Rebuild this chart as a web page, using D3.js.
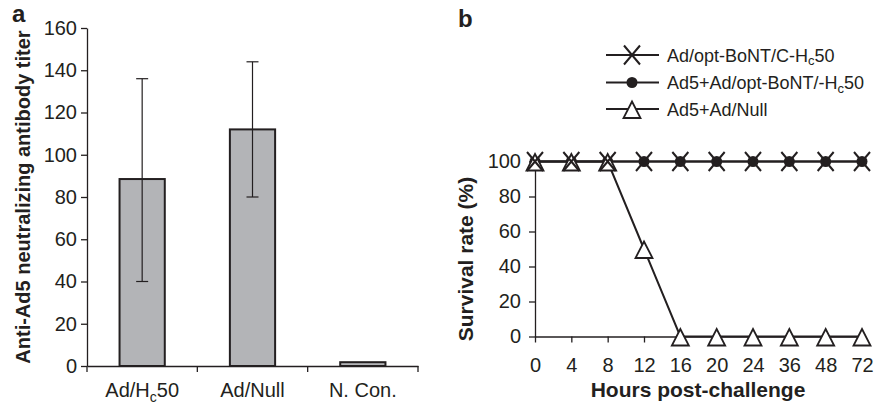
<!DOCTYPE html>
<html>
<head>
<meta charset="utf-8">
<script src="https://cdn.jsdelivr.net/npm/d3@7"></script>
<style>
  body { margin: 0; background: #fff; }
  svg { display: block; font-family: "Liberation Sans", Arial, sans-serif; }
  .axis path, .axis line { stroke: #231f20; stroke-width: 1.3px; }
  .axis text { fill: #231f20; font-size: 20px; font-family: "Liberation Sans", Arial, sans-serif; }
  .title { fill: #231f20; font-weight: bold; }
</style>
</head>
<body>
<svg id="chart" width="876" height="405"></svg>
<script>
// ---- data ----
// panel a: neutralizing antibody titer, mean with error bar range
const barCats = ["Ad/H{c}50", "Ad/Null", "N. Con."];
const barMeans = [88.5, 112, 1.8];
const barErrLow = [40, 80, null];
const barErrHigh = [136, 144, null];
const titerTicks = [0, 20, 40, 60, 80, 100, 120, 140, 160];

// panel b: survival after challenge
const hours = ["0", "4", "8", "12", "16", "20", "24", "36", "48", "72"];
const survivalHc50 = [100, 100, 100, 100, 100, 100, 100, 100, 100, 100];
const survivalAd5Hc50 = [100, 100, 100, 100, 100, 100, 100, 100, 100, 100];
const survivalNull = [100, 100, 100, 50, 0, 0, 0, 0, 0, 0];
const seriesNames = ["Ad/opt-BoNT/C-H{c}50", "Ad5+Ad/opt-BoNT/-H{c}50", "Ad5+Ad/Null"];
const survTicks = [0, 20, 40, 60, 80, 100];

const ink = "#231f20";
const svg = d3.select("#chart");

// writes "H{c}50" style strings with a subscript
function richText(sel, str, fs) {
  sel.text(null);
  str.split(/(\{[^}]*\})/).filter(s => s.length).forEach(part => {
    if (part[0] === "{") {
      sel.append("tspan").attr("font-size", Math.round(fs * 0.7)).attr("dy", fs * 0.22).text(part.slice(1, -1));
    } else {
      const t = sel.append("tspan").text(part);
      if (sel.selectAll("tspan").size() > 1) t.attr("dy", -fs * 0.22);
    }
  });
}

// ================= panel a =================
const ya = d3.scaleLinear().domain([0, 160]).range([366, 28]);
const xa = d3.scaleBand().domain(barCats).range([87, 418]).paddingInner(0.59).paddingOuter(0.295);

const ga = svg.append("g");

ga.append("g").attr("class", "axis").attr("transform", "translate(87,0)")
  .call(d3.axisLeft(ya).tickValues(titerTicks).tickSize(6).tickSizeOuter(0).tickPadding(4));

const xAxisA = ga.append("g").attr("class", "axis").attr("transform", "translate(0,366)")
  .call(d3.axisBottom(xa).tickSize(0).tickSizeOuter(0).tickPadding(17));
xAxisA.selectAll(".tick text").each(function(d) { richText(d3.select(this), d, 20); });
// category boundary ticks
const bStart = xa(barCats[0]) - xa.step() * xa.paddingInner() / 2;
xAxisA.selectAll(".bound").data(d3.range(barCats.length + 1)).enter()
  .append("line").attr("class", "bound")
  .attr("x1", i => bStart + i * xa.step()).attr("x2", i => bStart + i * xa.step())
  .attr("y1", 0).attr("y2", 6);

ga.selectAll(".bar").data(barCats).enter().append("rect")
  .attr("class", "bar")
  .attr("x", d => xa(d))
  .attr("width", xa.bandwidth())
  .attr("y", (d, i) => ya(barMeans[i]))
  .attr("height", (d, i) => ya(0) - ya(barMeans[i]))
  .attr("fill", "#b3b4b7").attr("stroke", ink).attr("stroke-width", 2);

const errs = barCats.map((c, i) => ({c, lo: barErrLow[i], hi: barErrHigh[i]})).filter(e => e.lo != null);
const eg = ga.selectAll(".err").data(errs).enter().append("g").attr("stroke", ink).attr("stroke-width", 1.2);
eg.append("line").attr("x1", d => xa(d.c) + xa.bandwidth() / 2).attr("x2", d => xa(d.c) + xa.bandwidth() / 2)
  .attr("y1", d => ya(d.lo)).attr("y2", d => ya(d.hi));
eg.append("line").attr("x1", d => xa(d.c) + xa.bandwidth() / 2 - 6).attr("x2", d => xa(d.c) + xa.bandwidth() / 2 + 6)
  .attr("y1", d => ya(d.hi)).attr("y2", d => ya(d.hi));
eg.append("line").attr("x1", d => xa(d.c) + xa.bandwidth() / 2 - 6).attr("x2", d => xa(d.c) + xa.bandwidth() / 2 + 6)
  .attr("y1", d => ya(d.lo)).attr("y2", d => ya(d.lo));

ga.append("text").attr("class", "title").attr("font-size", 20)
  .attr("transform", "translate(30," + ((ya(0) + ya(160)) / 2) + ") rotate(-90)")
  .attr("text-anchor", "middle").text("Anti-Ad5 neutralizing antibody titer");

svg.append("text").attr("class", "title").attr("font-size", 24).attr("x", 12).attr("y", 22).text("a");

// ================= panel b =================
const xb = d3.scalePoint().domain(hours).range([535, 862]).padding(0);
const yb = d3.scaleLinear().domain([0, 100]).range([336.5, 161.5]);

const gb = svg.append("g");

gb.append("g").attr("class", "axis").attr("transform", "translate(535,0)")
  .call(d3.axisLeft(yb).tickValues(survTicks).tickSize(6).tickSizeOuter(0).tickPadding(8));
gb.append("g").attr("class", "axis").attr("transform", "translate(0,336.5)")
  .call(d3.axisBottom(xb).tickSize(6).tickSizeOuter(0).tickPadding(15));

const series = [
  {name: seriesNames[0], values: survivalHc50, marker: "x"},
  {name: seriesNames[1], values: survivalAd5Hc50, marker: "dot"},
  {name: seriesNames[2], values: survivalNull, marker: "tri"}
];

const line = d3.line().x((v, i) => xb(hours[i])).y(v => yb(v));

function drawMarker(g, type) {
  if (type === "x") {
    g.append("path").attr("d", "M-8,-9.5L8,9.5M-8,9.5L8,-9.5")
      .attr("stroke", ink).attr("stroke-width", 2).attr("fill", "none");
  } else if (type === "dot") {
    g.append("circle").attr("r", 5.5).attr("fill", ink);
  } else {
    g.append("path").attr("d", "M0,-7.5L8.5,9L-8.5,9Z")
      .attr("fill", "#fff").attr("stroke", ink).attr("stroke-width", 1.8);
  }
}

// draw order: dots, triangles, crosses on top
const order = [1, 2, 0];
order.forEach(k => {
  gb.append("path").datum(series[k].values).attr("d", line)
    .attr("fill", "none").attr("stroke", ink).attr("stroke-width", 2);
});
order.forEach(k => {
  series[k].values.forEach((v, i) => {
    const m = gb.append("g").attr("transform", "translate(" + xb(hours[i]) + "," + yb(v) + ")");
    drawMarker(m, series[k].marker);
  });
});

// legend
const legendY = [55, 82.5, 109];
series.forEach((s, k) => {
  const lg = gb.append("g").attr("transform", "translate(0," + legendY[k] + ")");
  lg.append("line").attr("x1", 606).attr("x2", 659).attr("y1", 0).attr("y2", 0)
    .attr("stroke", ink).attr("stroke-width", 2);
  drawMarker(lg.append("g").attr("transform", "translate(632,0)"), s.marker);
  const t = lg.append("text").attr("x", 667).attr("y", 6.5).attr("font-size", 18).attr("fill", ink);
  richText(t, s.name, 18);
});

gb.append("text").attr("class", "title").attr("font-size", 21)
  .attr("transform", "translate(473,259) rotate(-90)")
  .attr("text-anchor", "middle").text("Survival rate (%)");
gb.append("text").attr("class", "title").attr("font-size", 21)
  .attr("x", 698).attr("y", 397).attr("text-anchor", "middle").text("Hours post-challenge");

svg.append("text").attr("class", "title").attr("font-size", 24).attr("x", 458).attr("y", 27).text("b");
</script>
</body>
</html>
